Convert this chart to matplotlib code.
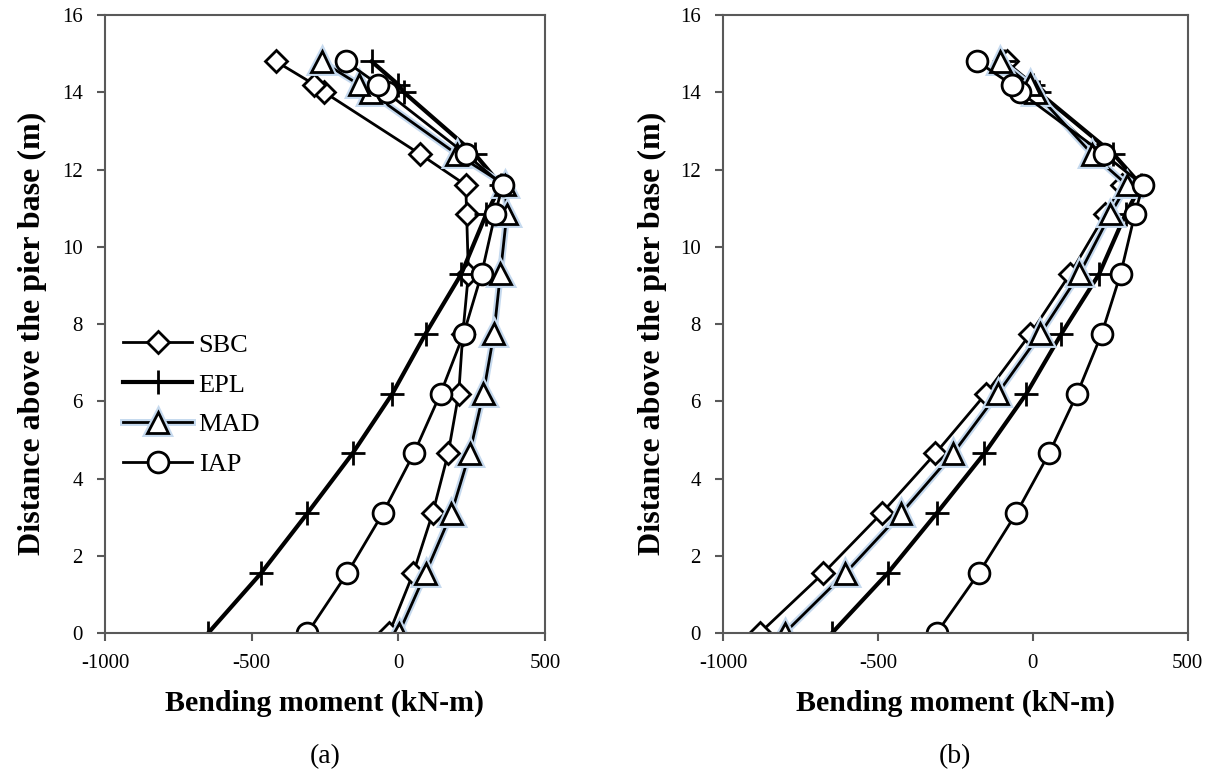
import matplotlib
matplotlib.use("Agg")
import matplotlib.pyplot as plt
import matplotlib.patheffects as pe

plt.rcParams['font.family'] = ['Liberation Serif', 'DejaVu Serif']
plt.rcParams['axes.unicode_minus'] = False

# height above pier base (m), bottom to top
height = [0, 1.55, 3.1, 4.65, 6.2, 7.75, 9.3, 10.85, 11.6, 12.4, 14.0, 14.2, 14.8]

# bending moment (kN-m)
epl = [-648, -468, -310, -156, -20, 93, 215, 300, 350, 261, 19, 0, -91]
iap = [-310, -174, -53, 53, 144, 223, 284, 330, 356, 230, -40, -68, -179]

sbc_a = [-31, 51, 117, 170, 206, 220, 239, 233, 230, 74, -252, -286, -417]
mad_a = [2, 93, 181, 243, 290, 326, 348, 370, 364, 199, -96, -134, -261]

sbc_b = [-881, -676, -488, -314, -151, -7, 121, 235, 289, 210, 5, -12, -83]
mad_b = [-801, -605, -425, -257, -113, 25, 151, 251, 305, 192, 9, -10, -104]

panels = ['(a)', '(b)']
xticks = [-1000, -500, 0, 500]
yticks = [0, 2, 4, 6, 8, 10, 12, 14, 16]

fig = plt.figure(figsize=(12.11, 7.72), dpi=100)
ax1 = fig.add_axes([0.0867, 0.18, 0.3633, 0.8005])
ax2 = fig.add_axes([0.597, 0.18, 0.3836, 0.8005])

glow = [pe.Stroke(linewidth=5, foreground='#c5d9ee'), pe.Normal()]


def draw(ax, sbc, mad, label, ylab_x, legend=False):
    ax.plot(sbc, height, color='black', lw=2, marker='D', ms=11,
            mfc='white', mec='black', mew=2, label='SBC')
    ax.plot(epl, height, color='black', lw=3, marker='+', ms=17,
            mec='black', mew=2, label='EPL')
    ax.plot(mad, height, color='black', lw=2, marker='^', ms=15,
            mfc='white', mec='black', mew=2, label='MAD',
            path_effects=glow)
    ax.plot(iap, height, color='black', lw=2, marker='o', ms=15,
            mfc='white', mec='black', mew=2, label='IAP')

    ax.set_xlim(-1000, 500)
    ax.set_ylim(0, 16)
    ax.set_xticks(xticks)
    ax.set_yticks(yticks)
    ax.tick_params(labelsize=15, length=6, width=1.5, color='#595959',
                   direction='out', top=False, right=False)
    ax.tick_params(axis='y', pad=10)
    ax.tick_params(axis='x', pad=9)
    for s in ax.spines.values():
        s.set_color('#595959')
        s.set_linewidth(1.5)
    ax.set_xlabel('Bending moment (kN-m)', fontsize=21.5, fontweight='bold',
                  va='center')
    ax.xaxis.set_label_coords(0.5, -0.113)
    ax.set_ylabel('Distance above the pier base (m)', fontsize=23,
                  fontweight='bold', va='center')
    ax.yaxis.set_label_coords(ylab_x, 0.485)
    ax.text(0.5, -0.2, label, transform=ax.transAxes, ha='center',
            va='center', fontsize=20)
    if legend:
        ax.legend(loc='upper left', bbox_to_anchor=(0.0, 0.515), frameon=False,
                  fontsize=19, handlelength=2.6, handletextpad=0.25,
                  labelspacing=0.62, borderaxespad=0.3)


draw(ax1, sbc_a, mad_a, panels[0], -0.166, legend=True)
draw(ax2, sbc_b, mad_b, panels[1], -0.152)

fig.savefig('out.png', dpi=100)
